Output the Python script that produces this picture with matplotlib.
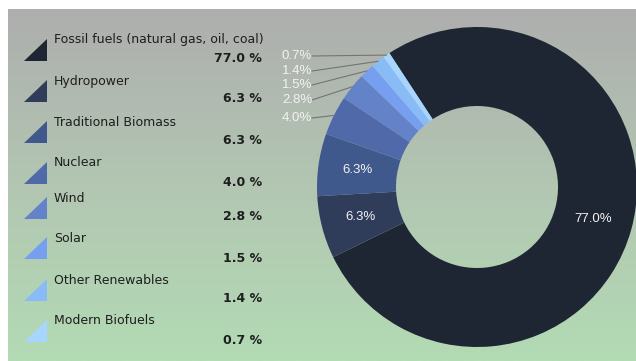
import matplotlib.pyplot as plt
import numpy as np
from matplotlib.patches import Polygon
from matplotlib.colors import LinearSegmentedColormap

# energy mix shares (%)
sources = ["Fossil fuels (natural gas, oil, coal)", "Hydropower", "Traditional Biomass",
           "Nuclear", "Wind", "Solar", "Other Renewables", "Modern Biofuels"]
shares = [77.0, 6.3, 6.3, 4.0, 2.8, 1.5, 1.4, 0.7]
colors = ["#1f2633", "#2f3d5b", "#40598c", "#5069a8", "#6382c8",
          "#76a0ef", "#89bcf6", "#a6d6ff"]

W, H = 636, 361
fig = plt.figure(figsize=(W / 100, H / 100), dpi=100)
ax = fig.add_axes([0, 0, 1, 1])

def y(v):
    # pixel rows counted from the top
    return H - v

# background: grey at the top fading into pale green, white strip top/left
grad = np.linspace(0, 1, 256).reshape(-1, 1)
cmap = LinearSegmentedColormap.from_list("bg", ["#aeaeae", "#b2c6b2", "#b3dbb4"])
ax.imshow(grad, cmap=cmap, extent=[8, W, 0, y(9)], aspect="auto", zorder=0)

cx, cy = 477, y(187)
R, r_in = 160, 81
wedges, texts, autotexts = ax.pie(
    shares, colors=colors, startangle=123.2, counterclock=False,
    center=(cx, cy), radius=R, frame=True,
    wedgeprops=dict(width=R - r_in, linewidth=0),
    autopct=lambda p: f"{p:.1f}%" if p > 5 else "",
    pctdistance=(R + r_in) / 2 / R,
    textprops=dict(color="#f2f2f2", fontsize=9.5, family="Liberation Sans"))
ax.set_xlim(0, W)
ax.set_ylim(0, H)
ax.set_aspect("auto")
ax.axis("off")

# outside labels for the small slices, with leader lines
small_rows = {3: 118, 4: 100, 5: 85, 6: 71, 7: 56}
for i, ty in small_rows.items():
    w = wedges[i]
    mid = np.deg2rad((w.theta1 + w.theta2) / 2)
    px, py = cx + R * np.cos(mid), cy + R * np.sin(mid)
    ax.plot([312, px], [y(ty), py], color="#747474", lw=0.8, zorder=3)
    ax.text(282, y(ty), f"{shares[i]:.1f}%", color="#f2f2f2", fontsize=9.5,
            family="Liberation Sans", va="center", ha="left")

# legend column: triangle swatch, name, bold value
name_rows = [40, 81, 122, 163, 198, 238, 280, 321]
value_rows = [59, 99, 141, 183, 217, 258, 299, 341]
for i, (name, val, c) in enumerate(zip(sources, shares, colors)):
    top = name_rows[i]
    tri = Polygon([(24, y(top + 21)), (47, y(top + 21)), (47, y(top - 1))],
                  closed=True, color=c, lw=0)
    ax.add_patch(tri)
    ax.text(54, y(top), name, fontsize=9, family="DejaVu Sans", color="#1e1e1e",
            va="center", ha="left")
    ax.text(262, y(value_rows[i]), f"{val:.1f} %", fontsize=9, family="DejaVu Sans",
            fontweight="bold", color="#1e1e1e", va="center", ha="right")

fig.savefig("out.png", dpi=100)
